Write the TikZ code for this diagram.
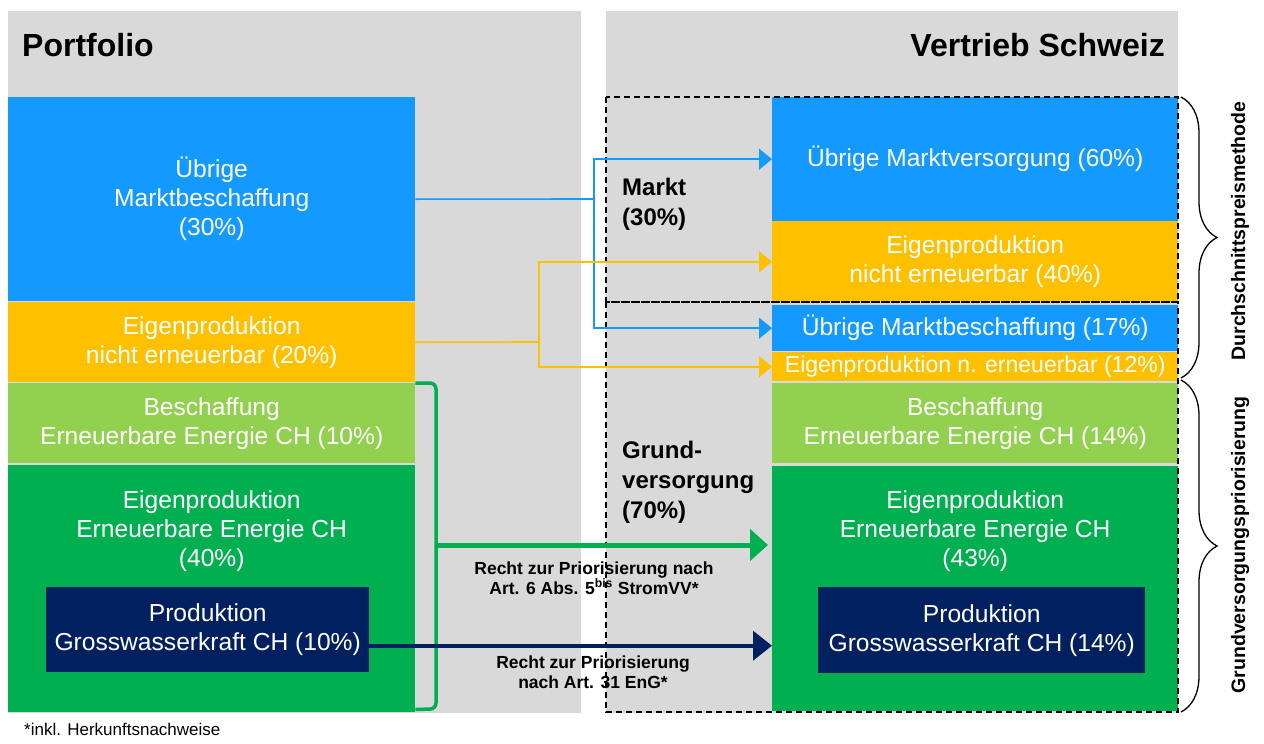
\documentclass[tikz,border=0pt]{standalone}
\usepackage{fontspec}
\setmainfont{Liberation Sans}
\usetikzlibrary{positioning,arrows.meta,decorations.pathreplacing}
\definecolor{panel}{HTML}{D9D9D9}
\definecolor{mktblue}{HTML}{1499FF}
\definecolor{ownorange}{HTML}{FFC000}
\definecolor{lightgrn}{HTML}{92D050}
\definecolor{darkgrn}{HTML}{00B050}
\definecolor{navy}{HTML}{002060}

\begin{document}
\begin{tikzpicture}[x=1pt,y=-1pt,
    box/.style={fill=#1, text=white, align=center, anchor=north west, inner sep=0pt, font=\fontsize{24.6}{29}\selectfont},
    boxtext/.style={text=white, align=center, inner sep=0pt, font=\fontsize{24.6}{29}\selectfont},
    title/.style={font=\fontsize{32}{38}\selectfont\bfseries, inner sep=0pt},
    share/.style={font=\fontsize{24}{30}\selectfont\bfseries, align=left, anchor=north west, inner sep=0pt},
    note/.style={font=\fontsize{17.5}{20}\selectfont\bfseries, align=center, inner sep=0pt},
    side/.style={font=\fontsize{19.5}{24}\selectfont\bfseries, rotate=90, inner sep=0pt},
    split/.style={draw=#1, line width=1.6pt},
    flow/.style={split=#1, -{Triangle[length=13pt,width=21pt]}},
    frame/.style={draw, line width=1.2pt, dash pattern=on 6pt off 4pt},
    curly/.style={draw, line width=1.3pt, decorate, decoration={brace, amplitude=36pt}}]
    \useasboundingbox (0,0) rectangle (1264,744);
    \fill[panel] (8,11) rectangle (581,713);
    \fill[panel] (606,11) rectangle (1178,713);
    \node[title, anchor=west] (portfolio) at (22,45) {Portfolio};
    \node[title, anchor=east] (vertrieb) at (1165,45) {Vertrieb Schweiz};

    \node[box=mktblue, minimum width=407, minimum height=204] (lmarkt) at (8,97) {Übrige\\Marktbeschaffung\\(30\%)};
    \node[box=ownorange, minimum width=407, minimum height=80] (lown) at (8,302) {Eigenproduktion\\nicht erneuerbar (20\%)};
    \node[box=lightgrn, minimum width=407, minimum height=80] (lbuy) at (8,383) {Beschaffung\\Erneuerbare Energie CH (10\%)};
    \node[box=darkgrn, minimum width=407, minimum height=247] (lprod) at (8,465) {};
    \node[boxtext, below=25pt of lprod.north] (lprodtext) {Eigenproduktion\\Erneuerbare Energie CH\\(40\%)};
    \node[box=navy, minimum width=323, minimum height=85] (lhydro) at (46,587) {Produktion\\Grosswasserkraft CH (10\%)};

    \node[box=mktblue, minimum width=406, minimum height=124] (rmarkt) at (772,97) {Übrige Marktversorgung (60\%)};
    \node[box=ownorange, minimum width=406, minimum height=81] (rown) at (772,221) {Eigenproduktion\\nicht erneuerbar (40\%)};
    \node[box=mktblue, minimum width=406, minimum height=46] (rrest) at (772,305) {Übrige Marktbeschaffung (17\%)};
    \node[box=ownorange, minimum width=406, minimum height=29, font=\fontsize{23}{27}\selectfont] (rownrest) at (772,352) {Eigenproduktion n. erneuerbar (12\%)};
    \node[box=lightgrn, minimum width=406, minimum height=80] (rbuy) at (772,383) {Beschaffung\\Erneuerbare Energie CH (14\%)};
    \node[box=darkgrn, minimum width=406, minimum height=245] (rprod) at (772,466) {};
    \node[boxtext, below=24pt of rprod.north] (rprodtext) {Eigenproduktion\\Erneuerbare Energie CH\\(43\%)};
    \node[box=navy, minimum width=327, minimum height=86] (rhydro) at (818,587) {Produktion\\Grosswasserkraft CH (14\%)};

    \draw[frame] (606,97) rectangle (1178,302);
    \draw[frame] (606,302) rectangle (1178,712);
    \draw[curly] (1181,97) -- (1181,378);
    \draw[curly] (1181,380) -- (1181,712);
    \node[side] (avg) at (1240,231) {Durchschnittspreismethode};
    \node[side] (prio) at (1240,545) {Grundversorgungspriorisierung};

    \node[share] (markt) at (622,178) {Markt\\(30\%)};
    \node[share] (grund) at (622,441) {Grund-\\versorgung\\(70\%)};

    \draw[split=mktblue] (lmarkt.east) -- (594,199) coordinate (bsplit);
    \draw[flow=mktblue] (bsplit) |- (rmarkt.west);
    \draw[flow=mktblue] (bsplit) |- (rrest.west);
    \draw[split=ownorange] (lown.east) -- (539,342) coordinate (osplit);
    \draw[flow=ownorange] (osplit) |- (rown.west);
    \draw[flow=ownorange] (osplit) |- (rownrest.west);

    \draw[darkgrn, line width=3.5pt, rounded corners=6pt] (lbuy.north east) -- (436,383) -- (436,709) -- ([yshift=3pt]lprod.south east);
    \coordinate (gsplit) at (436,545);
    \draw[darkgrn, line width=5pt, shorten >=4pt, -{Triangle[length=18pt,width=31pt]}] (gsplit) -- (gsplit -| rprod.west);
    \draw[navy, line width=4pt, -{Triangle[length=19pt,width=29pt]}] ([yshift=-16pt]lhydro.east) -- ([yshift=-16pt]lhydro.east -| rprod.west);
    \node[note] (gnote) at (594,578) {Recht zur Priorisierung nach\\Art. 6 Abs. 5\textsuperscript{bis} StromVV*};
    \node[note] (hnote) at (593,672) {Recht zur Priorisierung\\nach Art. 31 EnG*};

    \node[anchor=base west, inner sep=0pt, font=\fontsize{17}{20}\selectfont] (footnote) at (24,735) {*inkl. Herkunftsnachweise};
\end{tikzpicture}
\end{document}
